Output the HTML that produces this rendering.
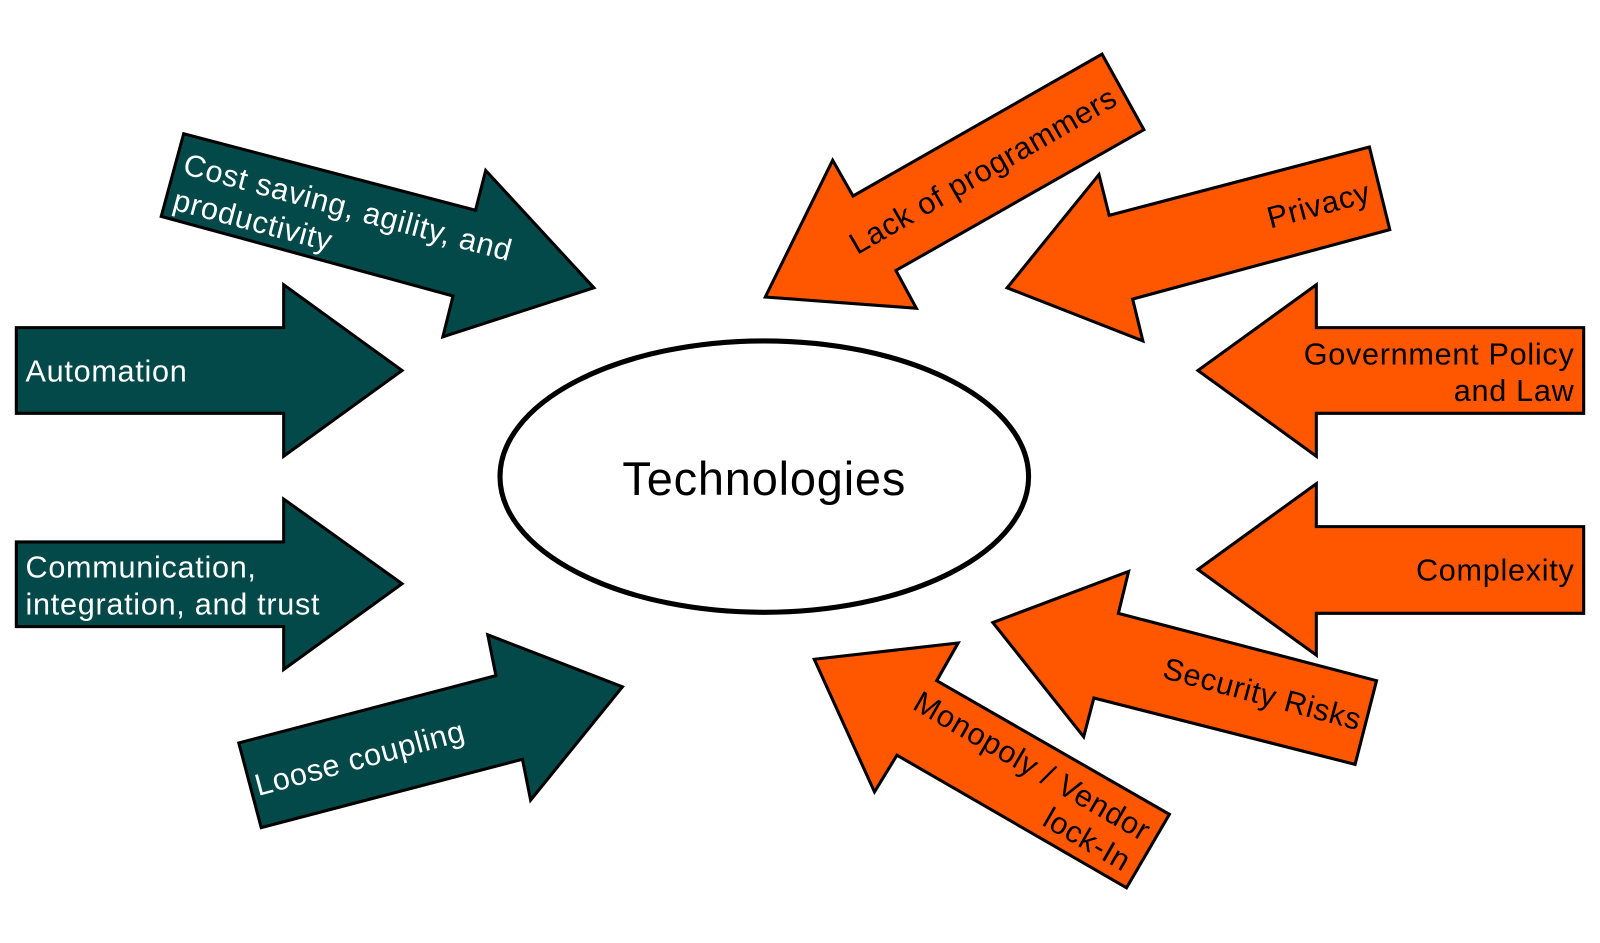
<!DOCTYPE html>
<html><head><meta charset="utf-8"><style>
html,body{margin:0;padding:0;background:#fff;}
svg{display:block}
text{font-family:"Liberation Sans",sans-serif;font-size:30px;letter-spacing:0.7px;}
</style></head><body>
<svg width="1600" height="943" viewBox="0 0 1568 924" xmlns="http://www.w3.org/2000/svg">
<g stroke="#000" stroke-width="3" stroke-linejoin="miter">
<g fill="#04494A">
<polygon points="16,321 278,321 278,279 394,363 278,447 278,405 16,405"/>
<polygon points="16,531 278,531 278,489 394,572 278,656 278,614 16,614"/>
<polygon points="180,131 466,206 476,167 582,282 434,330 444,290 158,212"/>
<polygon points="234,728 486,662 478,622 610,673 520,784 512,744 256,811"/>
</g>
<g fill="#FF5700">
<polygon points="1080,53 1121,127 878,265 898,302 750,291 816,157 836,192"/>
<polygon points="1342,144 1362,225 1110,293 1120,334 987,282 1077,171 1087,211"/>
<polygon points="1552,321 1290,321 1290,279 1174,363 1290,447 1290,405 1552,405"/>
<polygon points="1552,516 1290,516 1290,474 1174,558 1290,642 1290,601 1552,601"/>
<polygon points="1349,667 1328,749 1072,684 1062,722 973,610 1106,560 1096,601"/>
<polygon points="1146,798 1104,870 879,740 857,776 798,646 939,630 918,667"/>
</g>
</g>
<ellipse cx="749" cy="467" rx="259" ry="133" fill="#fff" stroke="#000" stroke-width="5"/>
<text x="749" y="485" text-anchor="middle" style="font-size:46px;letter-spacing:0.8px">Technologies</text>
<g fill="#fff">
<text x="25" y="374">Automation</text>
<text x="25" y="566">Communication,</text>
<text x="25" y="602">integration, and trust</text>
<text transform="translate(178,170) rotate(15)">Cost saving, agility, and</text>
<text transform="translate(168,205) rotate(15)">productivity</text>
<text transform="translate(253,780) rotate(-15)">Loose coupling</text>
</g>
<g fill="#000">
<text x="1543" y="357" text-anchor="end">Government Policy</text>
<text x="1543" y="393" text-anchor="end">and Law</text>
<text x="1543" y="569" text-anchor="end">Complexity</text>
<text transform="translate(1245,224) rotate(-15)">Privacy</text>
<text transform="translate(840,250) rotate(-30)">Lack of programmers</text>
<text transform="translate(1138,664) rotate(15)">Security Risks</text>
<text transform="translate(893,694) rotate(30)">Monopoly / Vendor</text>
<text transform="translate(1020,808) rotate(30)">lock-In</text>
</g>
</svg>
</body></html>
